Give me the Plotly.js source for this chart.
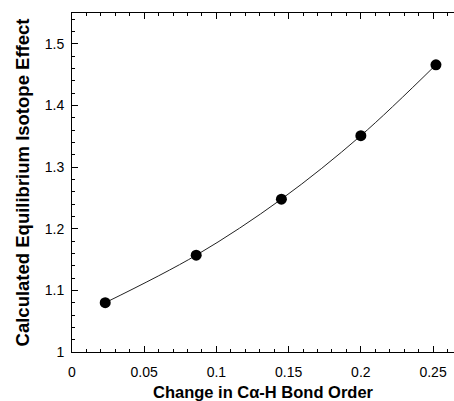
<!DOCTYPE html>
<html>
<head>
<meta charset="utf-8">
<script src="https://cdn.plot.ly/plotly-3.0.1.min.js"></script>
<style>html,body{margin:0;padding:0;background:#fff;}#chart{width:454px;height:401px;}</style>
</head>
<body>
<div id="chart"></div>
<script>
const bondOrderChange = [0.023, 0.086, 0.145, 0.200, 0.252];
const isotopeEffect = [1.080, 1.157, 1.248, 1.351, 1.466];
const xTickVals = [0, 0.05, 0.1, 0.15, 0.2, 0.25];
const xTickText = ["0", "0.05", "0.1", "0.15", "0.2", "0.25"];
const yTickVals = [1, 1.1, 1.2, 1.3, 1.4, 1.5];
const yTickText = ["1", "1.1", "1.2", "1.3", "1.4", "1.5"];

const font = "Arial, 'Liberation Sans', Helvetica, sans-serif";

const traces = [
  {
    x: bondOrderChange, y: isotopeEffect, type: 'scatter', mode: 'lines',
    line: {shape: 'spline', smoothing: 1, color: '#222', width: 1},
    hoverinfo: 'skip', showlegend: false
  },
  {
    x: bondOrderChange, y: isotopeEffect, type: 'scatter', mode: 'markers',
    marker: {size: 11, color: '#000'},
    showlegend: false
  }
];

const layout = {
  width: 454, height: 401,
  margin: {l: 71.5, r: 0, t: 13, b: 49},
  paper_bgcolor: '#fff', plot_bgcolor: '#fff',
  font: {family: font, color: '#000', size: 14},
  xaxis: {
    range: [0, 0.2645], tickvals: xTickVals, ticktext: xTickText,
    ticks: 'inside', ticklen: 6, tickwidth: 1, tickcolor: '#000',
    minor: {dtick: 0.01, ticks: 'inside', ticklen: 3, tickwidth: 1, tickcolor: '#000', showgrid: false},
    showline: true, linecolor: '#000', linewidth: 1, mirror: 'ticks',
    showgrid: false, zeroline: false, ticklabelstandoff: 7,
    tickfont: {size: 14, family: font},
    title: {text: 'Change in C\u03b1-H Bond Order', font: {size: 16.5, family: font, weight: 'bold'}, standoff: 7}
  },
  yaxis: {
    range: [1, 1.55], tickvals: yTickVals, ticktext: yTickText,
    ticks: 'inside', ticklen: 6, tickwidth: 1, tickcolor: '#000',
    minor: {dtick: 0.02, ticks: 'inside', ticklen: 3, tickwidth: 1, tickcolor: '#000', showgrid: false},
    showline: true, linecolor: '#000', linewidth: 1, mirror: false,
    showgrid: false, zeroline: false, ticklabelstandoff: 4,
    tickfont: {size: 14, family: font},
    title: {text: 'Calculated Equilibrium Isotope Effect', font: {size: 18.5, family: font, weight: 'bold'}, standoff: 10}
  }
};

Plotly.newPlot('chart', traces, layout, {displayModeBar: false, staticPlot: true});
</script>
</body>
</html>
